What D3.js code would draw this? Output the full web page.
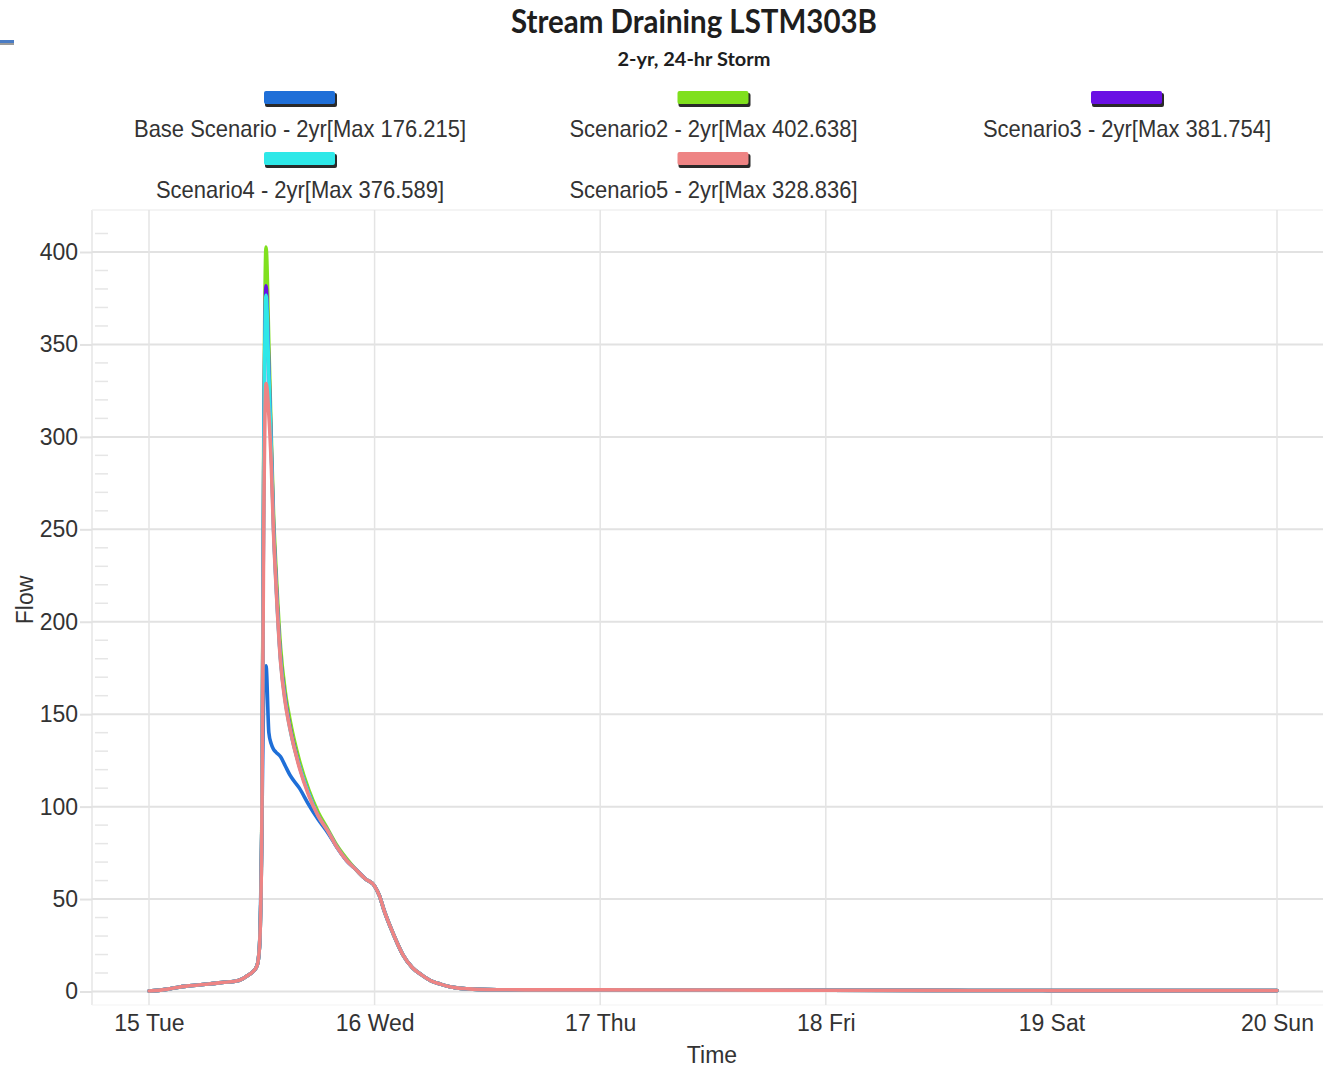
<!DOCTYPE html>
<html>
<head>
<meta charset="utf-8">
<script src="https://cdn.jsdelivr.net/npm/d3@7"></script>
<style>
  html, body { margin: 0; padding: 0; background: #ffffff; }
  svg { display: block; }
</style>
</head>
<body>
<svg id="chart" width="1323" height="1068"></svg>
<script>
// Hydrograph: flow at the stream draining LSTM303B for a 2-yr, 24-hr storm

// hours since 15 Tue 00:00
const hours = [0,1,2,3,4,5,6,7,8,9,10,10.5,11,11.5,11.75,12,12.2,12.45,12.75,13,13.25,13.5,14,14.5,15,16,17,18,19,20,21,22,23,24,24.5,25,26,27,28,29,30,31,32,34,36,40,48,60,72,84,96,108,120];

// flow values per scenario (same length as hours)
const baseFlow  = [0.3,0.6,1.3,2.2,2.9,3.4,3.9,4.4,5.0,5.4,7.0,8.6,10.5,14,24,
                   86,162,176.215,140,134,131,129.5,127,122,117,110,101,93,86,78,71,66,61,
                   57,52,44,31,20,13,9,5.8,4,2.6,1.4,1.0,0.9,0.9,0.8,0.7,0.6,0.5,0.5,0.5];
const scen2Flow = [0.3,0.6,1.3,2.2,2.9,3.4,3.9,4.4,5.0,5.4,7.0,8.6,10.5,14,24,
                   90,290,402.638,350,302,258,230,186,162,147,125,109,97,88,79,72,66,61,
                   57,52,44,31,20,13,9,5.8,4,2.6,1.4,1.0,0.9,0.9,0.8,0.7,0.6,0.5,0.5,0.5];
const scen3Flow = [0.3,0.6,1.3,2.2,2.9,3.4,3.9,4.4,5.0,5.4,7.0,8.6,10.5,14,24,
                   88,280,381.754,338,296,252,224,180,158,143,122,107,95,87,78,71,66,61,
                   57,52,44,31,20,13,9,5.8,4,2.6,1.4,1.0,0.9,0.9,0.8,0.7,0.6,0.5,0.5,0.5];
const scen4Flow = [0.3,0.6,1.3,2.2,2.9,3.4,3.9,4.4,5.0,5.4,7.0,8.6,10.5,14,24,
                   88,278,376.589,334,294,250,222,179,157,142,122,107,95,87,78,71,66,61,
                   57,52,44,31,20,13,9,5.8,4,2.6,1.4,1.0,0.9,0.9,0.8,0.7,0.6,0.5,0.5,0.5];
const scen5Flow = [0.3,0.6,1.3,2.2,2.9,3.4,3.9,4.4,5.0,5.4,7.0,8.6,10.5,14,24,
                   86,250,328.836,312,286,248,221,178,156,142,121,106,95,87,78,71,66,61,
                   57,52,44,31,20,13,9,5.8,4,2.6,1.4,1.0,0.9,0.9,0.8,0.7,0.6,0.5,0.5,0.5];

const seriesNames  = ["Base Scenario - 2yr", "Scenario2 - 2yr", "Scenario3 - 2yr", "Scenario4 - 2yr", "Scenario5 - 2yr"];
const seriesValues = [baseFlow, scen2Flow, scen3Flow, scen4Flow, scen5Flow];
const seriesColors = ["#1f6fd8", "#80e01e", "#6a10e4", "#2ee8e8", "#ee8484"];

const dayTicks  = [0, 24, 48, 72, 96, 120];
const dayLabels = ["15 Tue", "16 Wed", "17 Thu", "18 Fri", "19 Sat", "20 Sun"];
const flowTicks = [0, 50, 100, 150, 200, 250, 300, 350, 400];
const minorFlowTicks = d3.range(10, 420, 10).filter(v => v % 50 !== 0);

const titleText = "Stream Draining LSTM303B";
const subtitleText = "2-yr, 24-hr Storm";

// ---- layout ----
const plot = { left: 92, top: 210, right: 1323, bottom: 1005 };
const svg = d3.select("#chart");

const x = d3.scaleLinear().domain([0, 120]).range([149, 1277]);
const y = d3.scaleLinear().domain([0, 400]).range([991.5, 252]);

const sansFont = "'Liberation Sans', Arial, sans-serif";
const titleFont = "Lato, 'Open Sans', sans-serif";
const textColor = "#333";

// small corner accent at top left
svg.append("rect").attr("x", 0).attr("y", 40).attr("width", 14).attr("height", 3).attr("fill", "#4a7cc4");
svg.append("rect").attr("x", 0).attr("y", 43).attr("width", 14).attr("height", 2).attr("fill", "#9a9a9a");

// ---- title ----
svg.append("text")
  .attr("x", 694).attr("y", 33)
  .attr("text-anchor", "middle")
  .attr("font-family", titleFont).attr("font-weight", 700).attr("font-size", 32)
  .attr("fill", "#1e1e1e")
  .attr("textLength", 366).attr("lengthAdjust", "spacingAndGlyphs")
  .text(titleText);
svg.append("text")
  .attr("x", 694).attr("y", 66)
  .attr("text-anchor", "middle")
  .attr("font-family", titleFont).attr("font-weight", 700).attr("font-size", 19)
  .attr("fill", "#1e1e1e")
  .attr("textLength", 153).attr("lengthAdjust", "spacingAndGlyphs")
  .text(subtitleText);

// ---- legend ----
const legendColX = [300, 713.5, 1127];
const legendRowY = [91, 152];
const legend = svg.append("g").attr("class", "legend");
seriesNames.forEach((name, i) => {
  const cx = legendColX[i % 3];
  const top = legendRowY[Math.floor(i / 3)];
  const maxVal = d3.max(seriesValues[i]);
  const g = legend.append("g");
  g.append("rect")
    .attr("x", cx - 35).attr("y", top + 2).attr("width", 72).attr("height", 14)
    .attr("rx", 2).attr("fill", "#2a2a2a");
  g.append("rect")
    .attr("x", cx - 36).attr("y", top).attr("width", 71).attr("height", 13)
    .attr("rx", 2).attr("fill", seriesColors[i]);
  const t = g.append("text")
    .attr("x", cx).attr("y", top + 46)
    .attr("text-anchor", "middle")
    .attr("font-family", sansFont).attr("font-size", 24)
    .attr("fill", textColor)
    .text(`${name}[Max ${maxVal.toFixed(3)}]`);
  const w = t.node().getComputedTextLength();
  t.attr("textLength", w * 0.915).attr("lengthAdjust", "spacingAndGlyphs");
});

// ---- plot frame & grid ----
const grid = svg.append("g").attr("class", "grid");
grid.append("line")
  .attr("x1", plot.left).attr("x2", plot.left).attr("y1", plot.top).attr("y2", plot.bottom)
  .attr("stroke", "#e6e6e6").attr("stroke-width", 1.5);
grid.append("line")
  .attr("x1", plot.left).attr("x2", plot.right).attr("y1", plot.top).attr("y2", plot.top)
  .attr("stroke", "#f0f0f0").attr("stroke-width", 1.5);
grid.append("line")
  .attr("x1", plot.left).attr("x2", plot.right).attr("y1", plot.bottom).attr("y2", plot.bottom)
  .attr("stroke", "#f3f3f3").attr("stroke-width", 1);

grid.selectAll("line.h").data(flowTicks).join("line").attr("class", "h")
  .attr("x1", plot.left).attr("x2", plot.right)
  .attr("y1", d => y(d)).attr("y2", d => y(d))
  .attr("stroke", "#e2e2e2").attr("stroke-width", 2);

grid.selectAll("line.v").data(dayTicks).join("line").attr("class", "v")
  .attr("x1", d => x(d)).attr("x2", d => x(d))
  .attr("y1", plot.top).attr("y2", plot.bottom)
  .attr("stroke", "#e4e4e4").attr("stroke-width", 1.5);

grid.selectAll("line.minor").data(minorFlowTicks).join("line").attr("class", "minor")
  .attr("x1", plot.left + 3).attr("x2", plot.left + 16)
  .attr("y1", d => y(d)).attr("y2", d => y(d))
  .attr("stroke", "#e6e6e6").attr("stroke-width", 1.5);

// ---- axes ----
const yAxis = svg.append("g")
  .attr("transform", `translate(${plot.left},0)`)
  .call(d3.axisLeft(y).tickValues(flowTicks).tickSize(12).tickPadding(2).tickFormat(d3.format("d")));
yAxis.select(".domain").remove();
yAxis.selectAll(".tick line").attr("stroke", "#e2e2e2").attr("stroke-width", 2);
yAxis.selectAll(".tick text")
  .attr("font-family", sansFont).attr("font-size", 23).attr("fill", textColor);

const xAxis = svg.append("g")
  .attr("transform", `translate(0,${plot.bottom})`)
  .call(d3.axisBottom(x).tickValues(dayTicks).tickSize(0).tickPadding(10)
    .tickFormat((d, i) => dayLabels[i]));
xAxis.select(".domain").remove();
xAxis.selectAll(".tick text")
  .attr("font-family", sansFont).attr("font-size", 23).attr("fill", textColor);

// axis titles
svg.append("text")
  .attr("transform", "translate(33,600) rotate(-90)")
  .attr("text-anchor", "middle")
  .attr("font-family", sansFont).attr("font-size", 23).attr("fill", textColor)
  .text("Flow");
svg.append("text")
  .attr("x", 712).attr("y", 1063)
  .attr("text-anchor", "middle")
  .attr("font-family", sansFont).attr("font-size", 23).attr("fill", textColor)
  .text("Time");

// ---- flow lines ----
svg.append("clipPath").attr("id", "plot-clip")
  .append("rect")
  .attr("x", plot.left).attr("y", plot.top)
  .attr("width", plot.right - plot.left).attr("height", plot.bottom - plot.top);

const line = d3.line()
  .x(d => x(d[0]))
  .y(d => y(d[1]))
  .curve(d3.curveMonotoneX);

const lines = svg.append("g").attr("clip-path", "url(#plot-clip)");
seriesValues.forEach((vals, i) => {
  lines.append("path")
    .datum(hours.map((h, k) => [h, vals[k]]))
    .attr("d", line)
    .attr("fill", "none")
    .attr("stroke", seriesColors[i])
    .attr("stroke-width", 3.6)
    .attr("stroke-linejoin", "round")
    .attr("stroke-linecap", "round");
});
</script>
</body>
</html>
